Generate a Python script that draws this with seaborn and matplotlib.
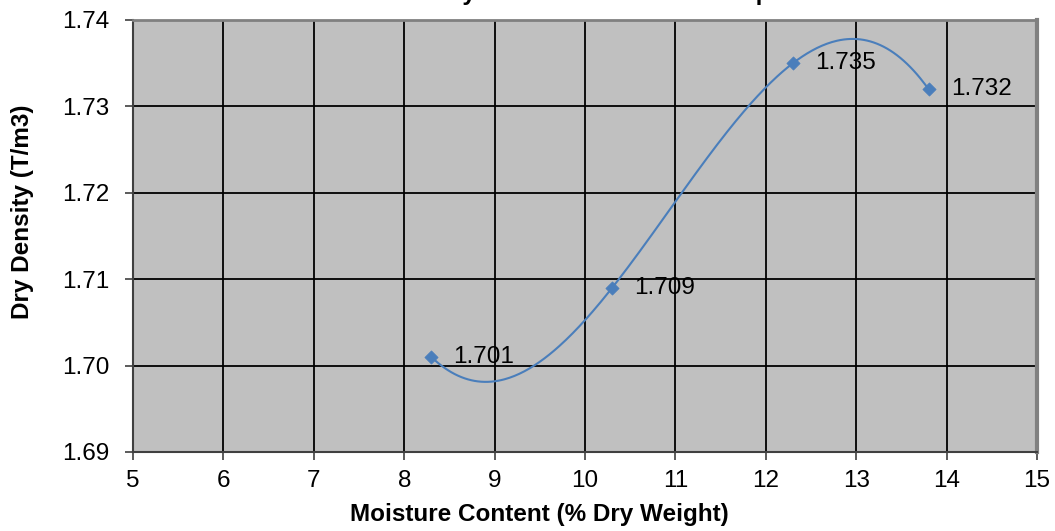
import numpy as np
import pandas as pd
import matplotlib
matplotlib.use("Agg")
import matplotlib.pyplot as plt
import seaborn as sns

# Data
moisture = [8.3, 10.3, 12.3, 13.8]
density = [1.701, 1.709, 1.735, 1.732]
labels = ["1.701", "1.709", "1.735", "1.732"]
x_ticks = [5, 6, 7, 8, 9, 10, 11, 12, 13, 14, 15]
y_ticks = [1.69, 1.70, 1.71, 1.72, 1.73, 1.74]
y_tick_labels = ["1.69", "1.70", "1.71", "1.72", "1.73", "1.74"]
title = "Density vs Moisture Relationship"
x_label = "Moisture Content (% Dry Weight)"
y_label = "Dry Density (T/m3)"

sns.set_style("white")
plt.rcParams['font.family'] = ['Liberation Sans', 'DejaVu Sans']

FS = 17.5
W, H = 1055, 531
fig = plt.figure(figsize=(W / 100, H / 100), dpi=100)
ax = fig.add_axes([133 / W, (H - 452) / H, (1037 - 133) / W, (452 - 20) / H])

blue = "#4A7EBB"
df = pd.DataFrame({"x": moisture, "y": density})

# cubic polynomial trendline through the points
coef = np.polyfit(moisture, density, 3)
xs = np.linspace(min(moisture), max(moisture), 300)
curve = pd.DataFrame({"x": xs, "y": np.polyval(coef, xs)})

ax.set_facecolor("#C0C0C0")
ax.set_axisbelow(True)
ax.grid(True, color="black", linewidth=1.3)

sns.lineplot(data=curve, x="x", y="y", ax=ax, color=blue, linewidth=1.5, zorder=3)
sns.scatterplot(data=df, x="x", y="y", ax=ax, marker="D", s=45, color=blue,
                edgecolor=blue, zorder=4)

for xv, yv, lab in zip(moisture, density, labels):
    ax.annotate(lab, (xv, yv), xytext=(16, 0), textcoords="offset points",
                ha="left", va="center", fontsize=FS, color="black", zorder=5)

ax.set_xlim(5, 15)
ax.set_ylim(1.69, 1.74)
ax.set_xticks(x_ticks)
ax.set_xticklabels([str(t) for t in x_ticks])
ax.set_yticks(y_ticks)
ax.set_yticklabels(y_tick_labels)
ax.tick_params(axis="both", direction="out", length=6, width=1.2, color="#404040",
               labelsize=FS, labelcolor="black", left=True, bottom=True)
ax.tick_params(axis="x", pad=7)
ax.tick_params(axis="y", pad=11)

for side in ["left", "bottom"]:
    ax.spines[side].set_color("#404040")
    ax.spines[side].set_linewidth(1.5)
ax.spines["top"].set_color("#808080")
ax.spines["top"].set_linewidth(2)
ax.spines["right"].set_color("#808080")
ax.spines["right"].set_linewidth(3)

ax.set_xlabel(x_label, fontsize=FS, fontweight="bold", color="black")
ax.set_ylabel(y_label, fontsize=FS, fontweight="bold", color="black")
ax.xaxis.set_label_coords((539 - 133) / 904, -(503 - 452) / 432)
ax.yaxis.set_label_coords((34 - 133) / 904, (452 - 212) / 432)

# title mostly cut off at the top of the figure (only descenders visible)
fig.text(0.549, 1.0, title, ha="center", va="baseline",
         fontsize=FS, fontweight="bold", color="black")

fig.savefig("out.png", dpi=100)
